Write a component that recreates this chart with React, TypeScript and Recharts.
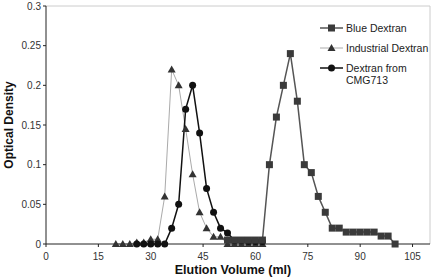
import { LineChart, Line, XAxis, YAxis, ReferenceLine } from 'recharts';

const FONT = "Arial, 'Liberation Sans', sans-serif";

// elution volumes (ml) and optical densities per sample
const blueVol = [52, 54, 56, 58, 60, 62, 64, 66, 68, 70, 72, 74, 76, 78, 80, 82, 84, 86, 88, 90, 92, 94, 96, 98, 100];
const blueOD = [0.005, 0.005, 0.005, 0.005, 0.005, 0.005, 0.1, 0.16, 0.2, 0.24, 0.18, 0.1, 0.09, 0.06, 0.04, 0.02, 0.02, 0.015, 0.015, 0.015, 0.015, 0.015, 0.01, 0.01, 0];

const indVol = [20, 22, 24, 26, 28, 30, 32, 34, 36, 38, 40, 42, 44, 46, 48, 50, 52, 54, 56, 58, 60, 62];
const indOD = [0, 0, 0, 0.002, 0.002, 0.006, 0.006, 0.06, 0.22, 0.2, 0.145, 0.088, 0.04, 0.02, 0.009, 0.009, 0, 0, 0, 0, 0, 0];

const cmgVol = [26, 28, 30, 32, 34, 36, 38, 40, 42, 44, 46, 48, 50, 52, 54, 56, 58, 60, 62];
const cmgOD = [0, 0, 0, 0, 0, 0.02, 0.05, 0.17, 0.2, 0.14, 0.07, 0.04, 0.02, 0.014, 0.004, 0.004, 0.003, 0.003, 0.003];

const xTicks = [0, 15, 30, 45, 60, 75, 90, 105];
const yTicks = [0, 0.05, 0.1, 0.15, 0.2, 0.25, 0.3];

const toPoints = (xs: number[], ys: number[]) => xs.map((x, i) => ({ x, y: ys[i] }));

const blue = toPoints(blueVol, blueOD);
const industrial = toPoints(indVol, indOD);
const cmg = toPoints(cmgVol, cmgOD);

const SquareDot = (p: any) => <rect key={p.index} x={p.cx - 3.5} y={p.cy - 3.5} width={7} height={7} fill="#3a3a3a" />;
const TriDot = (p: any) => (
  <path key={p.index} d={`M${p.cx},${p.cy - 4} L${p.cx + 4},${p.cy + 3} L${p.cx - 4},${p.cy + 3} Z`} fill="#333" />
);
const CircleDot = (p: any) => <circle key={p.index} cx={p.cx} cy={p.cy} r={3.5} fill="#111" />;

function LegendBox() {
  const row = (y: number, color: string, width: number, marker: React.ReactNode, lines: string[]) => (
    <g key={lines[0]}>
      <line x1={0} x2={23} y1={y} y2={y} stroke={color} strokeWidth={width} />
      {marker}
      {lines.map((t, i) => (
        <text key={t} x={26} y={y + 4 + i * 12} fontSize={10.5} fill="#222" fontFamily={FONT}>{t}</text>
      ))}
    </g>
  );
  return (
    <svg width={110} height={70} style={{ position: 'absolute', left: 320, top: 22 }}>
      {row(6, '#555', 1.5, <rect x={8} y={2.5} width={7} height={7} fill="#3a3a3a" />, ['Blue Dextran'])}
      {row(26, '#aaa', 1, <path d="M11.5,22 L15.5,29 L7.5,29 Z" fill="#333" />, ['Industrial Dextran'])}
      {row(46, '#111', 1.5, <circle cx={11.5} cy={46} r={3.5} fill="#111" />, ['Dextran from', 'CMG713'])}
    </svg>
  );
}

export default function App() {
  return (
    <div style={{ position: 'absolute', left: 0, top: 0, width: 434, height: 277, background: '#fff' }}>
      <LineChart width={434} height={277} margin={{ top: 6, right: 4, bottom: 0, left: 0 }}>
        <XAxis
          dataKey="x"
          type="number"
          domain={[0, 110]}
          ticks={xTicks}
          allowDataOverflow
          height={33}
          tickSize={3}
          tickMargin={6}
          stroke="#222"
          tick={{ fontSize: 10, fill: '#333', fontFamily: FONT }}
          label={{ value: 'Elution Volume (ml)', position: 'insideBottom', offset: 3, dx: -5, style: { fontSize: 12.5, fontWeight: 'bold', fill: '#111', fontFamily: FONT } }}
        />
        <YAxis
          type="number"
          domain={[0, 0.3]}
          ticks={yTicks}
          width={46}
          tickSize={3}
          tickMargin={2}
          stroke="#222"
          tick={{ fontSize: 10, fill: '#333', fontFamily: FONT }}
          label={{ value: 'Optical Density', angle: -90, position: 'insideLeft', offset: 9, style: { fontSize: 12, fontWeight: 'bold', fill: '#111', fontFamily: FONT, textAnchor: 'middle' } }}
        />
        <ReferenceLine y={0.3} stroke="#ccc" />
        <ReferenceLine x={110} stroke="#ccc" />
        <Line data={industrial} dataKey="y" name="Industrial Dextran" type="linear" stroke="#aaa" strokeWidth={1} dot={TriDot} isAnimationActive={false} />
        <Line data={cmg} dataKey="y" name="Dextran from CMG713" type="linear" stroke="#111" strokeWidth={1.5} dot={CircleDot} isAnimationActive={false} />
        <Line data={blue} dataKey="y" name="Blue Dextran" type="linear" stroke="#555" strokeWidth={1.5} dot={SquareDot} isAnimationActive={false} />
      </LineChart>
      <LegendBox />
    </div>
  );
}
